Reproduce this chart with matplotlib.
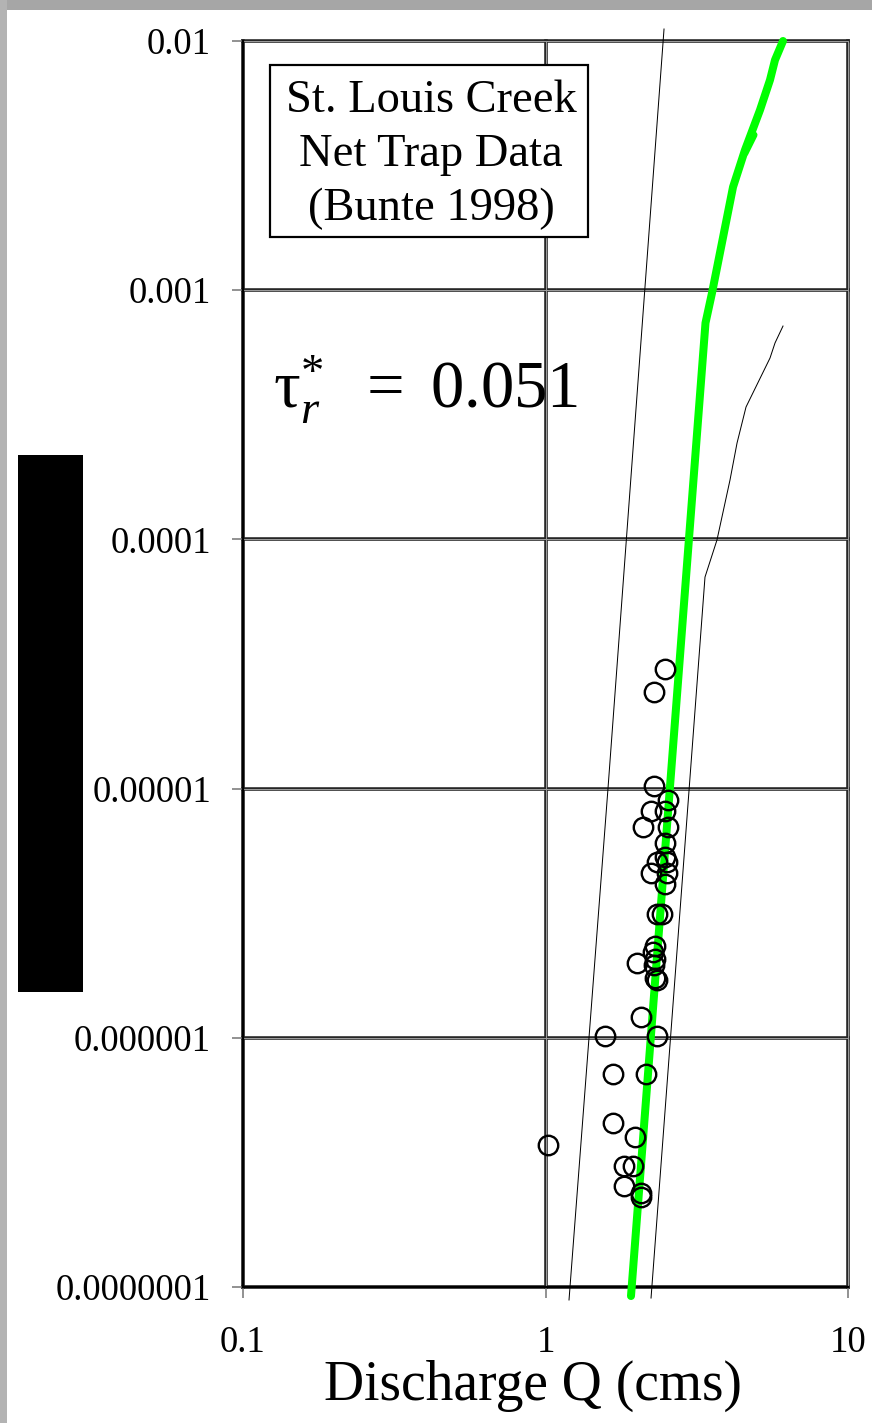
import matplotlib
matplotlib.use("Agg")
import matplotlib.pyplot as plt
from matplotlib.patches import Rectangle
from matplotlib.ticker import FixedLocator, FixedFormatter, NullLocator

plt.rcParams["font.family"] = ["Liberation Serif", "DejaVu Serif"]
plt.rcParams["mathtext.fontset"] = "custom"
plt.rcParams["mathtext.rm"] = "Liberation Serif"
plt.rcParams["mathtext.it"] = "Liberation Serif:italic"

# Net-trap bedload samples: discharge (cms) and transport rate
q_obs = [2.483, 2.289, 2.289, 2.547, 2.489, 2.233, 2.105, 2.535, 2.489, 2.489,
         2.331, 2.516, 2.233, 2.516, 2.489, 2.342, 2.422, 2.301, 2.272, 2.301,
         2.012, 2.289, 2.301, 2.342, 2.064, 1.573, 2.331, 1.675, 2.149, 1.022,
         1.675, 1.977, 1.818, 1.942, 1.818, 2.064, 2.064]
qs_obs = [3.01e-5, 2.45e-5, 1.02e-5, 9.0e-6, 8.15e-6, 8.15e-6, 6.99e-6, 6.99e-6,
          6.07e-6, 5.33e-6, 5.09e-6, 5.09e-6, 4.57e-6, 4.57e-6, 4.13e-6, 3.14e-6,
          3.14e-6, 2.34e-6, 2.20e-6, 2.07e-6, 2.0e-6, 1.96e-6, 1.73e-6, 1.71e-6,
          1.21e-6, 1.02e-6, 1.02e-6, 7.16e-7, 7.16e-7, 3.71e-7, 4.54e-7, 4.01e-7,
          3.06e-7, 3.06e-7, 2.54e-7, 2.39e-7, 2.29e-7]

# Computed transport curve for tau_r* = 0.051
q_fit = [1.917, 3.380, 3.551, 4.168, 4.565, 5.118, 5.523, 5.737, 6.097]
qs_fit = [9.2e-8, 7.39e-4, 9.74e-4, 2.595e-3, 3.652e-3, 5.285e-3, 6.98e-3, 8.39e-3, 1.0e-2]
q_fit_branch = [4.565, 4.89]
qs_fit_branch = [3.55e-3, 4.2e-3]

# Lower and upper envelope curves
q_low = [1.196, 1.609, 2.465]
qs_low = [8.87e-8, 1.0e-5, 1.117e-2]
q_high = [2.233, 3.367, 3.688, 4.073, 4.297, 4.601, 5.523, 5.737, 6.097]
qs_high = [9.03e-8, 7.06e-5, 9.94e-5, 1.731e-4, 2.436e-4, 3.398e-4, 5.343e-4, 6.14e-4, 7.18e-4]

x_ticks = [0.1, 1, 10]
x_tick_labels = ["0.1", "1", "10"]
y_ticks = [1e-7, 1e-6, 1e-5, 1e-4, 1e-3, 1e-2]
y_tick_labels = ["0.0000001", "0.000001", "0.00001", "0.0001", "0.001", "0.01"]

W, H = 872, 1423
PT = 0.72  # points per pixel at 100 dpi

fig = plt.figure(figsize=(W / 100, H / 100), dpi=100)
fig.patch.set_facecolor("white")

ax = fig.add_axes([243 / W, 1 - 1287 / H, (848 - 243) / W, (1287 - 41) / H])
ax.set_xscale("log")
ax.set_yscale("log")
ax.set_xlim(x_ticks[0], x_ticks[-1])
ax.set_ylim(y_ticks[0], y_ticks[-1])

# double-rule grid at each decade
for yv in y_ticks:
    ax.axhline(yv, color="#262626", lw=3.6 * PT, zorder=1, clip_on=False)
    ax.axhline(yv, color="#9a9a9a", lw=1.0 * PT, zorder=1.1, clip_on=False)
for xv in x_ticks:
    ax.axvline(xv, color="#262626", lw=3.6 * PT, zorder=1, clip_on=False)
    ax.axvline(xv, color="#9a9a9a", lw=1.0 * PT, zorder=1.1, clip_on=False)

for side in ("top", "right"):
    ax.spines[side].set_visible(False)
for side in ("left", "bottom"):
    ax.spines[side].set_color("black")
    ax.spines[side].set_linewidth(2.2 * PT)
    ax.spines[side].set_zorder(3)

ax.plot(q_low, qs_low, color="black", lw=1.0 * PT, zorder=2, clip_on=False)
ax.plot(q_high, qs_high, color="black", lw=1.0 * PT, zorder=2, clip_on=False)
ax.plot(q_fit, qs_fit, color="#00ff00", lw=8 * PT, zorder=4, clip_on=False,
        solid_capstyle="round", solid_joinstyle="round")
ax.plot(q_fit_branch, qs_fit_branch, color="#00ff00", lw=7 * PT, zorder=4,
        solid_capstyle="round")
ax.plot(q_obs, qs_obs, linestyle="none", marker="o", markersize=14,
        markerfacecolor="none", markeredgecolor="black", markeredgewidth=2.4 * PT,
        zorder=5, clip_on=False)

ax.xaxis.set_major_locator(FixedLocator(x_ticks))
ax.xaxis.set_major_formatter(FixedFormatter(x_tick_labels))
ax.yaxis.set_major_locator(FixedLocator(y_ticks))
ax.yaxis.set_major_formatter(FixedFormatter(y_tick_labels))
ax.xaxis.set_minor_locator(NullLocator())
ax.yaxis.set_minor_locator(NullLocator())
ax.tick_params(axis="both", which="major", direction="out", length=11 * PT,
               width=1.6 * PT, color="#7a7a7a", labelsize=26.5, labelcolor="black")
ax.tick_params(axis="y", pad=15)
ax.tick_params(axis="x", pad=20)

# station label box
fig.add_artist(Rectangle((270 / W, 1 - 237 / H), 318 / W, 172 / H,
                         transform=fig.transFigure, facecolor="white",
                         edgecolor="black", lw=2.2 * PT, zorder=6))
for line, base in (("St. Louis Creek", 112), ("Net Trap Data", 166), ("(Bunte 1998)", 220)):
    fig.text(431 / W, 1 - base / H, line, ha="center", va="baseline",
             fontsize=33.5, zorder=7)

fig.text(273 / W, 1 - 408 / H, r"$\mathrm{\tau}_{r}^{*}\ \ =\ 0.051$",
         ha="left", va="baseline", fontsize=48, zorder=7)

fig.text(533 / W, 1 - 1400 / H, "Discharge Q (cms)", ha="center", va="baseline",
         fontsize=40)

# masked axis-title block and frame bands
fig.add_artist(Rectangle((18 / W, 1 - 992 / H), 65 / W, 537 / H,
                         transform=fig.transFigure, facecolor="black",
                         edgecolor="none", zorder=8))
fig.add_artist(Rectangle((0, 1 - 10 / H), 1, 10 / H, transform=fig.transFigure,
                         facecolor="#a6a6a6", edgecolor="none", zorder=9))
fig.add_artist(Rectangle((0, 0), 7 / W, 1, transform=fig.transFigure,
                         facecolor="#b3b3b3", edgecolor="none", zorder=9))

fig.savefig("out.png", dpi=100)
